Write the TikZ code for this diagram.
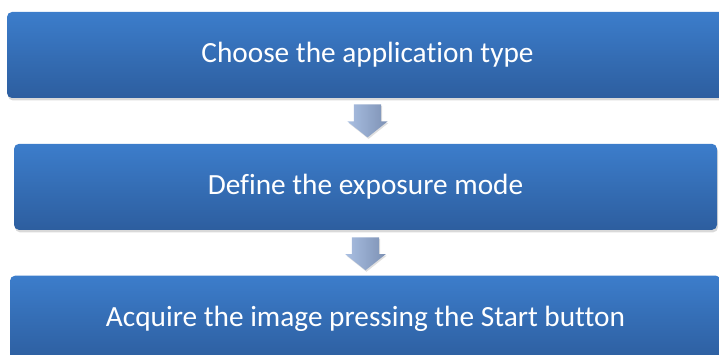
\documentclass[tikz,border=0pt]{standalone}
\usepackage{fontspec}
\setmainfont{Carlito}[Ligatures=NoCommon]
\usetikzlibrary{positioning,shapes.arrows,shadows}

\definecolor{boxtop}{HTML}{3C7DCB}
\definecolor{boxbot}{HTML}{2D5E9F}
\definecolor{arrtop}{HTML}{A9BFE2}
\definecolor{arrbot}{HTML}{7D91B4}

\tikzset{
  stepbox/.style={rounded corners=5pt, top color=boxtop, bottom color=boxbot,
    draw=none, text=white, minimum height=86pt, inner sep=0pt,
    font=\fontsize{29.3}{35}\selectfont,
    drop shadow={opacity=0.3, shadow xshift=1pt, shadow yshift=-2.5pt}},
  downarrow/.style={single arrow, rotate=-90, draw=none,
    inner xsep=0pt, inner ysep=13.5pt,
    left color=arrtop, right color=arrbot,
    minimum height=33pt, minimum width=40pt,
    single arrow head extend=6.5pt, single arrow tip angle=103,
    drop shadow={opacity=0.25, shadow xshift=1pt, shadow yshift=-1.5pt}}
}

\begin{document}
\begin{tikzpicture}[x=1pt, y=1pt, node distance=6pt]
\useasboundingbox (0,0) rectangle (719,354);
\clip (0,0) rectangle (719,354);
\node[stepbox, minimum width=721pt] (choose) at (367.5,299) {Choose the application type};
\node[downarrow, below=6pt of choose, anchor=west] (arr1) {};
\node[stepbox, minimum width=703pt, below=6pt of arr1.east, anchor=north, xshift=-2pt] (define) {Define the exposure mode};
\node[downarrow, below=5pt of define, anchor=west, xshift=2pt] (arr2) {};
\node[stepbox, minimum width=711pt, below=5pt of arr2.east, anchor=north] (acquire) {Acquire the image pressing the Start button};
\end{tikzpicture}
\end{document}
